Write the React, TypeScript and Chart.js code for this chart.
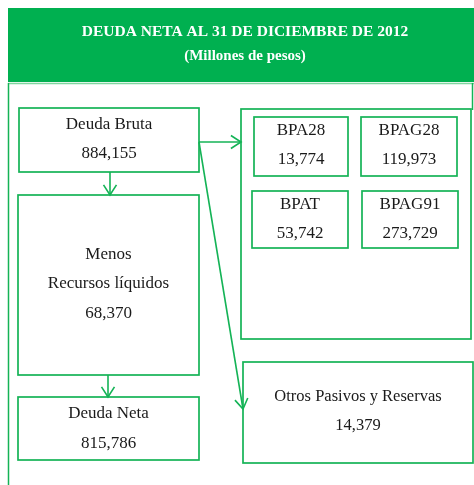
import React, { useEffect, useRef } from "react";
import { Chart, registerables } from "chart.js";

Chart.register(...registerables);

// ---- Data ----
const titleText = "DEUDA NETA AL 31 DE DICIEMBRE DE 2012";
const subtitleText = "(Millones de pesos)";
const mainLabels = ["Deuda Bruta", "Menos|Recursos líquidos", "Deuda Neta"];
const mainValues = [884155, 68370, 815786];
const bondLabels = ["BPA28", "BPAG28", "BPAT", "BPAG91"];
const bondValues = [13774, 119973, 53742, 273729];
const otherLabels = ["Otros Pasivos y Reservas"];
const otherValues = [14379];

// ---- Layout (diagram coordinates) ----
const W = 474;
const H = 485;
const headerRect = [8, 8, 474, 82];
const mainBoxes = [
  [19, 108, 199, 172],
  [18, 195, 199, 375],
  [18, 397, 199, 460],
];
const mainTextY = [
  [123, 152],
  [253, 282, 312],
  [412, 442],
];
const groupBox = [241, 109, 471, 339];
const bondBoxes = [
  [254, 117, 348, 176],
  [361, 117, 457, 176],
  [252, 191, 348, 248],
  [362, 191, 458, 248],
];
const bondTextY = [
  [129, 158],
  [129, 158],
  [203, 232],
  [203, 232],
];
const otherBox = [243, 362, 473, 463];
const otherTextY = [395, 424];
const arrows = [
  [110, 172, 110, 195],
  [108, 375, 108, 397],
  [199, 142, 241, 142],
  [199, 142, 243, 409],
];

const GREEN = "#00B050";
const LINE = "#14B356";
const FONT = '"Liberation Serif", "DejaVu Serif", serif';
const TEXT_DY = 2;
const fmt = (v: number) => v.toLocaleString("en-US");

const diagramPlugin = {
  id: "diagram",
  afterDraw(chart: any) {
    const ctx = chart.ctx as CanvasRenderingContext2D;
    const xs = chart.scales.x;
    const ys = chart.scales.y;
    const px = (v: number) => xs.getPixelForValue(v);
    const py = (v: number) => ys.getPixelForValue(v);

    ctx.save();
    // header
    ctx.fillStyle = GREEN;
    ctx.fillRect(px(headerRect[0]), py(headerRect[1]), px(headerRect[2]) - px(headerRect[0]), py(headerRect[3]) - py(headerRect[1]));
    ctx.fillStyle = "#ffffff";
    ctx.textAlign = "center";
    ctx.textBaseline = "middle";
    ctx.font = `bold 15.5px ${FONT}`;
    ctx.fillText(titleText, px(245), py(30 + TEXT_DY));
    ctx.font = `bold 15px ${FONT}`;
    ctx.fillText(subtitleText, px(245), py(54 + TEXT_DY));

    // outer frame
    ctx.strokeStyle = "#7FD6A0";
    ctx.lineWidth = 1.5;
    ctx.beginPath();
    ctx.moveTo(px(8), py(83.5));
    ctx.lineTo(px(474), py(83.5));
    ctx.stroke();
    ctx.strokeStyle = LINE;
    ctx.beginPath();
    ctx.moveTo(px(8.5), py(83));
    ctx.lineTo(px(8.5), py(485));
    ctx.moveTo(px(472.5), py(83));
    ctx.lineTo(px(472.5), py(110));
    ctx.stroke();

    const rect = (b: number[]) => {
      ctx.strokeStyle = LINE;
      ctx.lineWidth = 1.7;
      ctx.strokeRect(px(b[0]), py(b[1]), px(b[2]) - px(b[0]), py(b[3]) - py(b[1]));
    };
    const texts = (b: number[], lines: string[], ys2: number[], size: number) => {
      ctx.fillStyle = "#1a1a1a";
      ctx.font = `${size}px ${FONT}`;
      ctx.textAlign = "center";
      ctx.textBaseline = "middle";
      const cx = (b[0] + b[2]) / 2;
      lines.forEach((t, i) => ctx.fillText(t, px(cx), py(ys2[i] + TEXT_DY)));
    };

    mainBoxes.forEach((b, i) => {
      rect(b);
      const lines = [...mainLabels[i].split("|"), fmt(mainValues[i])];
      texts(b, lines, mainTextY[i], 17);
    });
    rect(groupBox);
    bondBoxes.forEach((b, i) => {
      rect(b);
      texts(b, [bondLabels[i], fmt(bondValues[i])], bondTextY[i], 17);
    });
    rect(otherBox);
    texts(otherBox, [otherLabels[0], fmt(otherValues[0])], otherTextY, 16.5);

    // arrows
    ctx.strokeStyle = LINE;
    ctx.lineWidth = 1.6;
    arrows.forEach((a) => {
      const x0 = px(a[0]), y0 = py(a[1]), x1 = px(a[2]), y1 = py(a[3]);
      ctx.beginPath();
      ctx.moveTo(x0, y0);
      ctx.lineTo(x1, y1);
      ctx.stroke();
      const ang = Math.atan2(y1 - y0, x1 - x0);
      const len = 12;
      const spread = Math.PI / 5.5;
      ctx.beginPath();
      ctx.moveTo(x1 - len * Math.cos(ang - spread), y1 - len * Math.sin(ang - spread));
      ctx.lineTo(x1, y1);
      ctx.lineTo(x1 - len * Math.cos(ang + spread), y1 - len * Math.sin(ang + spread));
      ctx.stroke();
    });
    ctx.restore();
  },
};

export default function App() {
  const ref = useRef<HTMLCanvasElement | null>(null);
  useEffect(() => {
    if (!ref.current) return;
    const chart = new Chart(ref.current, {
      type: "scatter",
      data: { datasets: [{ data: [], pointRadius: 0 }] },
      options: {
        animation: false,
        responsive: false,
        layout: { padding: 0 },
        plugins: { legend: { display: false }, tooltip: { enabled: false } },
        scales: {
          x: { type: "linear", min: 0, max: W, display: false },
          y: { type: "linear", min: 0, max: H, reverse: true, display: false },
        },
      },
      plugins: [diagramPlugin],
    });
    return () => chart.destroy();
  }, []);
  return (
    <div style={{ position: "absolute", left: 0, top: 0, width: W, height: H, background: "#fff" }}>
      <canvas ref={ref} width={W} height={H} style={{ width: W, height: H, display: "block" }} />
    </div>
  );
}
